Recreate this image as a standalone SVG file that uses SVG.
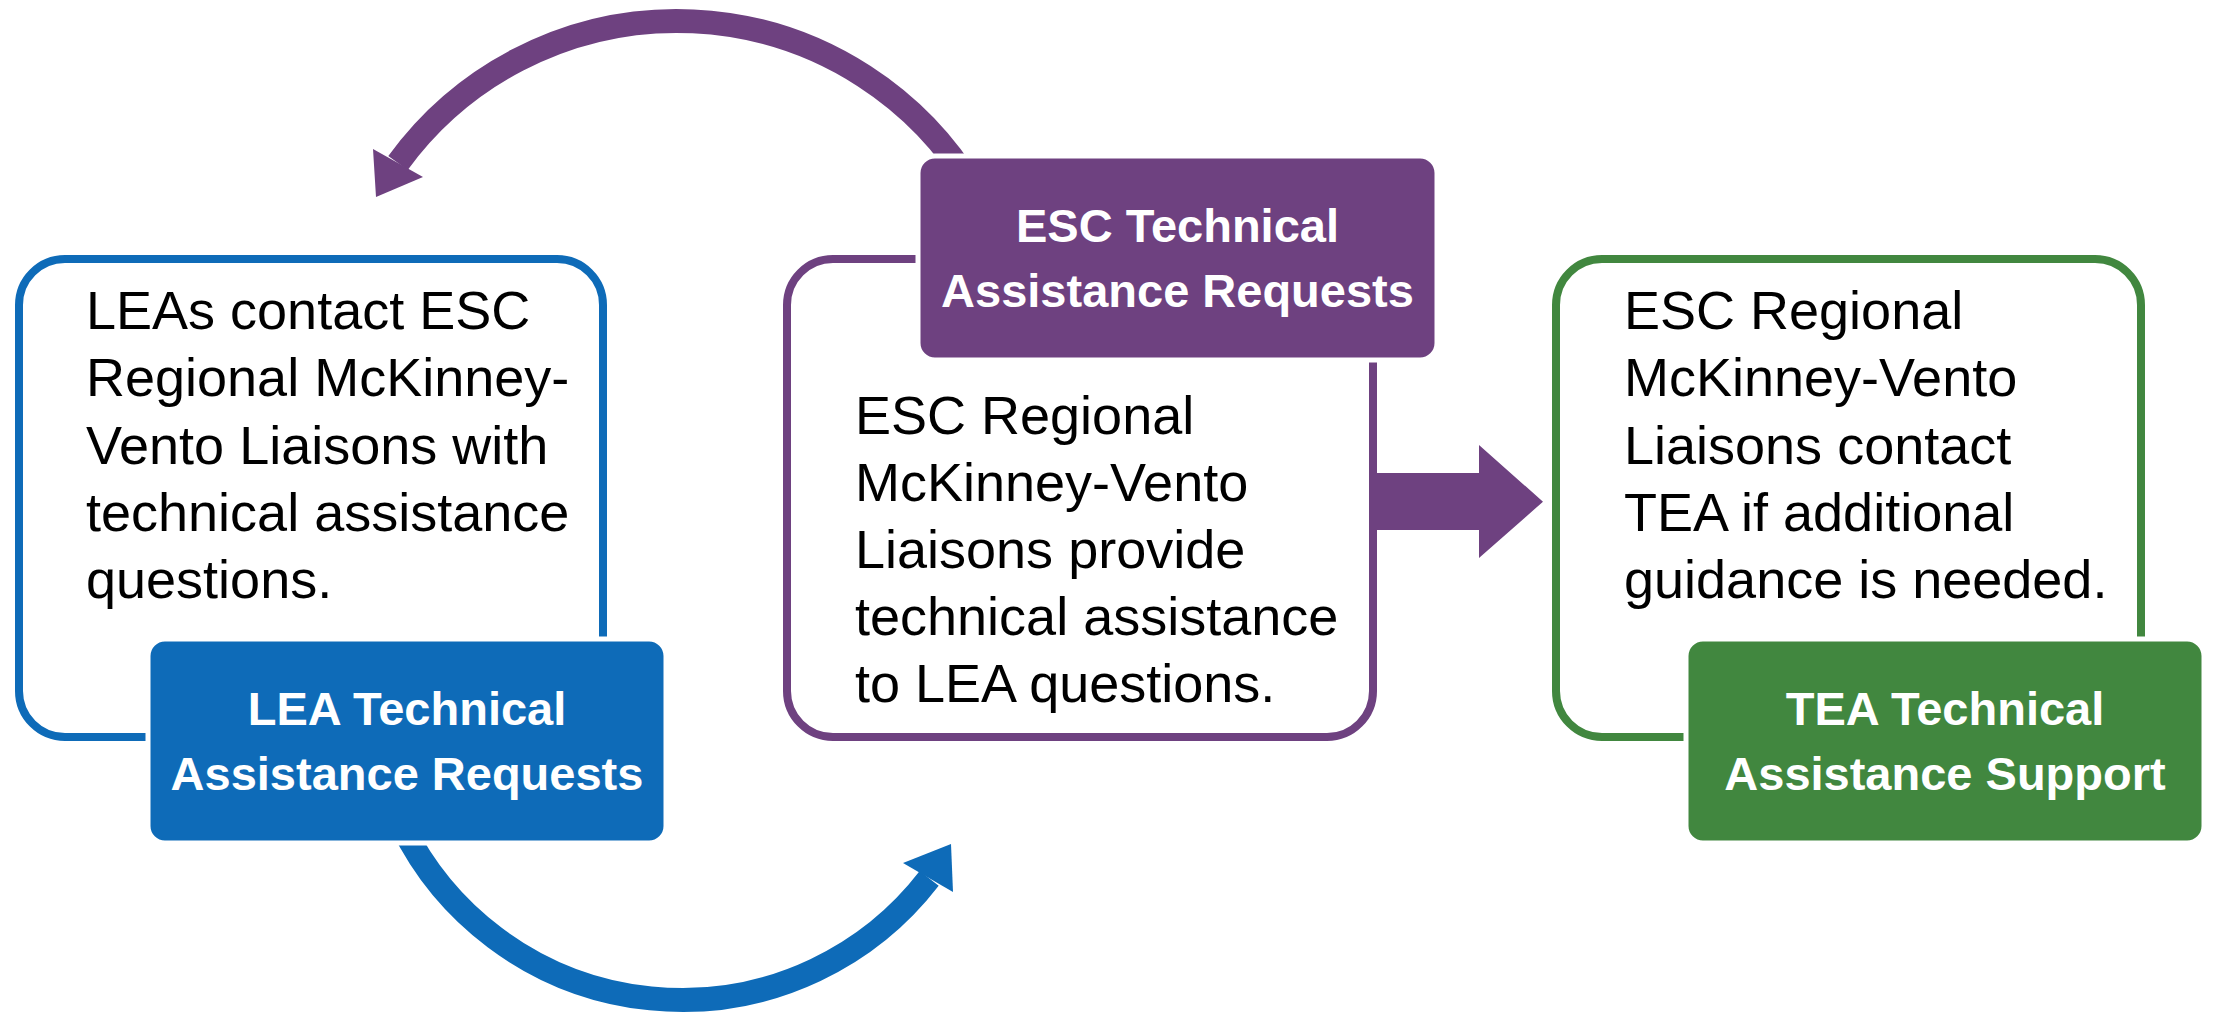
<svg xmlns="http://www.w3.org/2000/svg" width="2213" height="1014" viewBox="0 0 2213 1014">
<style>
.bg{fill:#ffffff}
.outer{fill:#ffffff;stroke-width:8}
.label{stroke:#ffffff;stroke-width:5}
.body{font-family:"Liberation Sans",Arial,sans-serif;font-size:54px;fill:#000000}
.lbl{font-family:"Liberation Sans",Arial,sans-serif;font-size:47px;font-weight:bold;fill:#ffffff;text-anchor:middle}
.blue{stroke:#0E6BB8}
.purple{stroke:#6E4180}
.green{stroke:#41873F}
.fblue{fill:#0E6BB8}
.fpurple{fill:#6E4180}
.fgreen{fill:#41873F}
.arc{fill:none;stroke-width:24}
</style>
<rect class="bg" x="0" y="0" width="2213" height="1014"/>
<g id="connectors">
  <path class="arc purple" d="M 973.7 190 A 345 345 0 0 0 398 163"/>
  <polygon class="fpurple" points="373,149 423,177 376,197"/>
  <path class="arc blue" d="M 401.7 825 A 312 312 0 0 0 929.2 878.4"/>
  <polygon class="fblue" points="903,863 953,892 951,844"/>
  <polygon class="fpurple" points="1373,473 1479,473 1479,445 1543,501.7 1479,558 1479,530 1373,530"/>
</g>
<g id="node-lea">
  <rect class="outer blue" x="19" y="259" width="584" height="478" rx="46"/>
  <text class="body" x="86" y="329">LEAs contact ESC</text>
  <text class="body" x="86" y="396">Regional McKinney-</text>
  <text class="body" x="86" y="463.5">Vento Liaisons with</text>
  <text class="body" x="86" y="531">technical assistance</text>
  <text class="body" x="86" y="598">questions.</text>
  <rect class="label fblue" x="148" y="639" width="518" height="204" rx="17"/>
  <text class="lbl" x="407" y="725">LEA Technical</text>
  <text class="lbl" x="407" y="790">Assistance Requests</text>
</g>
<g id="node-esc">
  <rect class="outer purple" x="787" y="259" width="586" height="478" rx="46"/>
  <text class="body" x="855" y="434">ESC Regional</text>
  <text class="body" x="855" y="501">McKinney-Vento</text>
  <text class="body" x="855" y="568">Liaisons provide</text>
  <text class="body" x="855" y="635">technical assistance</text>
  <text class="body" x="855" y="702">to LEA questions.</text>
  <rect class="label fpurple" x="918" y="156" width="519" height="204" rx="17"/>
  <text class="lbl" x="1177.5" y="242">ESC Technical</text>
  <text class="lbl" x="1177.5" y="307">Assistance Requests</text>
</g>
<g id="node-tea">
  <rect class="outer green" x="1556" y="259" width="585" height="478" rx="46"/>
  <text class="body" x="1624" y="329">ESC Regional</text>
  <text class="body" x="1624" y="396">McKinney-Vento</text>
  <text class="body" x="1624" y="463.5">Liaisons contact</text>
  <text class="body" x="1624" y="531">TEA if additional</text>
  <text class="body" x="1624" y="598">guidance is needed.</text>
  <rect class="label fgreen" x="1686" y="639" width="518" height="204" rx="17"/>
  <text class="lbl" x="1945" y="725">TEA Technical</text>
  <text class="lbl" x="1945" y="790">Assistance Support</text>
</g>
</svg>
